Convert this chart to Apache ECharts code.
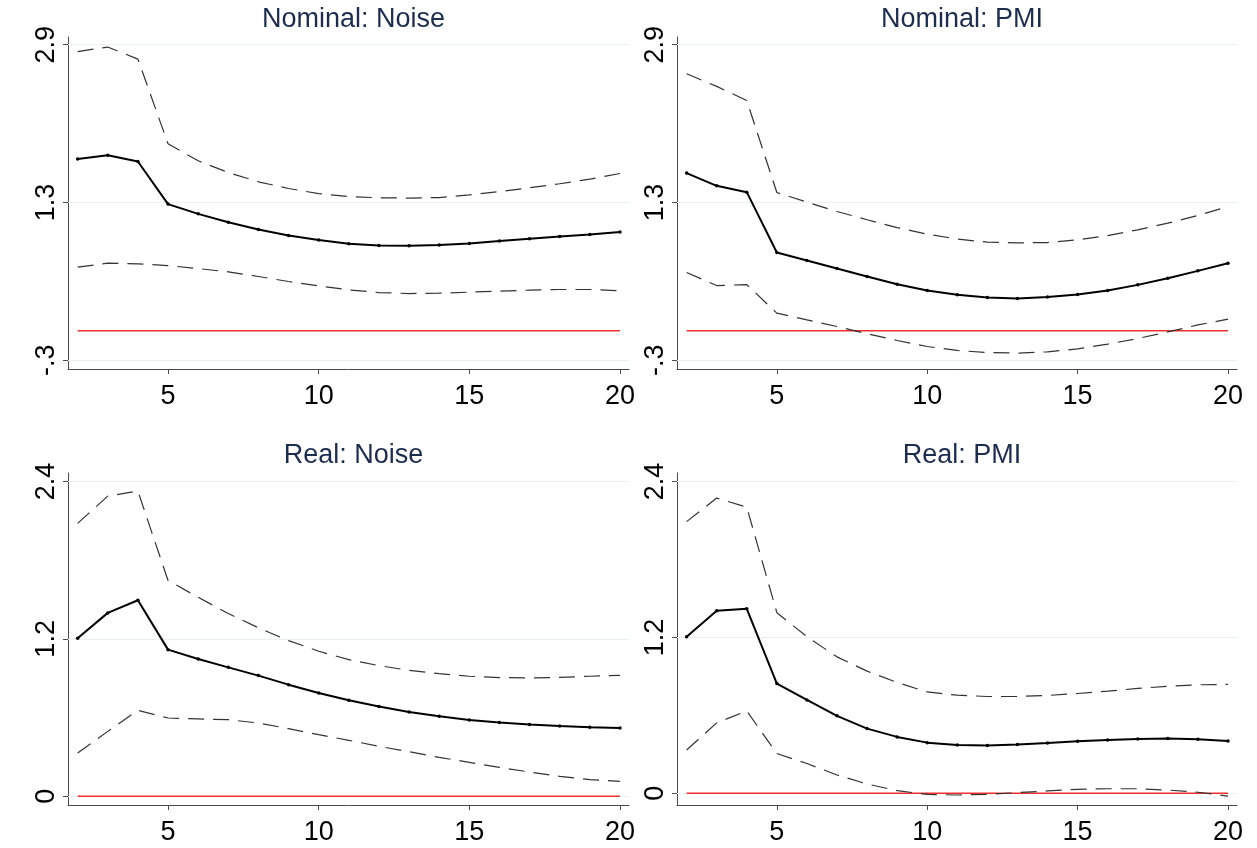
<!DOCTYPE html>
<html>
<head>
<meta charset="utf-8">
<title>Impulse responses</title>
<script src="https://cdn.jsdelivr.net/npm/echarts@6/dist/echarts.min.js"></script>
<style>
  html, body { margin: 0; padding: 0; background: #ffffff; }
  #chart { width: 1257px; height: 848px; }
</style>
</head>
<body>
<div id="chart"></div>
<script>
// Forecast horizon
const horizon = [2, 3, 4, 5, 6, 7, 8, 9, 10, 11, 12, 13, 14, 15, 16, 17, 18, 19, 20];

// Nominal: Noise
const nomNoiseIrf   = [1.74, 1.78, 1.716, 1.284, 1.185, 1.10, 1.026, 0.965, 0.92, 0.881, 0.864, 0.861, 0.868, 0.884, 0.909, 0.932, 0.955, 0.975, 1.0];
const nomNoiseUpper = [2.83, 2.876, 2.754, 1.895, 1.723, 1.604, 1.51, 1.442, 1.39, 1.36, 1.348, 1.345, 1.35, 1.378, 1.41, 1.45, 1.49, 1.537, 1.594];
const nomNoiseLower = [0.645, 0.685, 0.678, 0.661, 0.63, 0.597, 0.55, 0.499, 0.455, 0.414, 0.387, 0.377, 0.381, 0.391, 0.401, 0.412, 0.418, 0.418, 0.405];

// Nominal: PMI
const nomPmiIrf   = [1.598, 1.469, 1.405, 0.793, 0.712, 0.631, 0.55, 0.472, 0.408, 0.364, 0.337, 0.326, 0.341, 0.367, 0.408, 0.465, 0.533, 0.607, 0.685];
const nomPmiUpper = [2.605, 2.477, 2.334, 1.401, 1.304, 1.209, 1.125, 1.046, 0.979, 0.929, 0.898, 0.891, 0.894, 0.922, 0.965, 1.023, 1.091, 1.168, 1.259];
const nomPmiLower = [0.59, 0.458, 0.468, 0.178, 0.11, 0.043, -0.031, -0.099, -0.16, -0.2, -0.221, -0.227, -0.214, -0.184, -0.136, -0.079, -0.012, 0.059, 0.117];

// Real: Noise
const realNoiseIrf   = [1.205, 1.398, 1.494, 1.118, 1.047, 0.983, 0.92, 0.851, 0.788, 0.732, 0.684, 0.643, 0.61, 0.582, 0.562, 0.547, 0.536, 0.526, 0.521];
const realNoiseUpper = [2.08, 2.288, 2.326, 1.645, 1.517, 1.393, 1.284, 1.187, 1.106, 1.042, 0.996, 0.96, 0.935, 0.915, 0.905, 0.902, 0.907, 0.915, 0.922];
const realNoiseLower = [0.33, 0.495, 0.655, 0.597, 0.59, 0.584, 0.559, 0.516, 0.47, 0.427, 0.381, 0.34, 0.297, 0.259, 0.221, 0.185, 0.152, 0.127, 0.114];

// Real: PMI
const realPmiIrf   = [1.205, 1.405, 1.42, 0.845, 0.719, 0.596, 0.498, 0.434, 0.39, 0.372, 0.367, 0.375, 0.387, 0.4, 0.41, 0.418, 0.421, 0.416, 0.403];
const realPmiUpper = [2.091, 2.272, 2.202, 1.39, 1.205, 1.05, 0.94, 0.853, 0.78, 0.755, 0.745, 0.745, 0.753, 0.768, 0.786, 0.807, 0.824, 0.835, 0.838];
const realPmiLower = [0.333, 0.542, 0.634, 0.306, 0.229, 0.141, 0.072, 0.02, -0.008, -0.013, -0.008, 0.005, 0.018, 0.031, 0.035, 0.035, 0.025, 0.008, -0.021];

// Zero reference level
const baseline = 0;

// Axis ticks and their printed labels
const xTicks = [5, 10, 15, 20];
const nomTicks = [-0.3, 1.3, 2.9];
const nomTickLabels = ['-.3', '1.3', '2.9'];
const realTicks = [0, 1.2, 2.4];
const realTickLabels = ['0', '1.2', '2.4'];

// Panel titles
const titles = ['Nominal: Noise', 'Nominal: PMI', 'Real: Noise', 'Real: PMI'];

const FONT = 'Liberation Sans, Arial, Helvetica, sans-serif';
const AXIS_COLOR = '#4a4a4a';
const GRID_COLOR = '#eaf1f1';

const panels = [
  { title: titles[0], irf: nomNoiseIrf,   up: nomNoiseUpper,  lo: nomNoiseLower,  ticks: nomTicks,  labels: nomTickLabels,  ymin: -0.388, ymax: 2.978,
    grid: { left: 68, top: 37, width: 561, height: 332 } },
  { title: titles[1], irf: nomPmiIrf,     up: nomPmiUpper,    lo: nomPmiLower,    ticks: nomTicks,  labels: nomTickLabels,  ymin: -0.388, ymax: 2.978,
    grid: { left: 677, top: 37, width: 560, height: 332 } },
  { title: titles[2], irf: realNoiseIrf,  up: realNoiseUpper, lo: realNoiseLower, ticks: realTicks, labels: realTickLabels, ymin: -0.066, ymax: 2.464,
    grid: { left: 68, top: 473, width: 561, height: 332 } },
  { title: titles[3], irf: realPmiIrf,    up: realPmiUpper,   lo: realPmiLower,   ticks: realTicks, labels: realTickLabels, ymin: -0.09, ymax: 2.465,
    grid: { left: 677, top: 473, width: 560, height: 332 } }
];

const pairs = arr => horizon.map((h, i) => [h, arr[i]]);

const option = {
  backgroundColor: '#ffffff',
  animation: false,
  title: [],
  grid: [],
  xAxis: [],
  yAxis: [],
  series: []
};

panels.forEach((p, k) => {
  option.grid.push(Object.assign({ containLabel: false }, p.grid));
  option.title.push({
    text: p.title,
    left: p.grid.left + p.grid.width / 2,
    top: p.grid.top - 36,
    textAlign: 'center',
    textStyle: { fontFamily: FONT, fontSize: 27, fontWeight: 'normal', color: '#1c2d50' }
  });
  option.xAxis.push({
    type: 'value',
    gridIndex: k,
    min: 1.68,
    max: 20.3,
    axisLine: { show: true, onZero: false, lineStyle: { color: AXIS_COLOR, width: 1 } },
    axisTick: { show: true, length: 5, customValues: xTicks, lineStyle: { color: AXIS_COLOR } },
    axisLabel: { customValues: xTicks, fontFamily: FONT, fontSize: 27, color: '#000', margin: 14 },
    splitLine: { show: false }
  });
  option.yAxis.push({
    type: 'value',
    gridIndex: k,
    min: p.ymin,
    max: p.ymax,
    axisLine: { show: true, onZero: false, lineStyle: { color: AXIS_COLOR, width: 1 } },
    axisTick: { show: true, length: 5, customValues: p.ticks, lineStyle: { color: AXIS_COLOR } },
    axisLabel: {
      customValues: p.ticks,
      rotate: 90,
      margin: 8,
      fontFamily: FONT, fontSize: 27, color: '#000',
      formatter: v => {
        const i = p.ticks.findIndex(t => Math.abs(t - v) < 1e-6);
        return i >= 0 ? p.labels[i] : '';
      }
    },
    splitLine: { show: false }
  });

  // horizontal grid lines at the labelled ticks, kept beneath the data
  option.series.push({
    type: 'line', xAxisIndex: k, yAxisIndex: k, data: [], silent: true, z: 1,
    markLine: {
      silent: true, symbol: 'none', label: { show: false }, z: 1,
      lineStyle: { color: GRID_COLOR, width: 1.2, type: 'solid' },
      data: p.ticks.map(t => ({ yAxis: t }))
    }
  });
  // zero line
  option.series.push({
    type: 'line', xAxisIndex: k, yAxisIndex: k, showSymbol: false, silent: true,
    data: pairs(horizon.map(() => baseline)),
    lineStyle: { color: '#f23030', width: 1.5 }, z: 6
  });
  // confidence bands
  [p.up, p.lo].forEach(band => {
    option.series.push({
      type: 'line', xAxisIndex: k, yAxisIndex: k, showSymbol: false, silent: true,
      data: pairs(band),
      lineStyle: { color: '#333333', width: 1.2, type: [16, 9] }, z: 7
    });
  });
  // point estimate
  option.series.push({
    type: 'line', xAxisIndex: k, yAxisIndex: k, silent: true,
    data: pairs(p.irf),
    symbol: 'circle', symbolSize: 3.5, showSymbol: true,
    itemStyle: { color: '#000000' },
    lineStyle: { color: '#000000', width: 2 }, z: 8
  });
});

const chart = echarts.init(document.getElementById('chart'), null, { renderer: 'canvas' });
chart.setOption(option);
</script>
</body>
</html>
